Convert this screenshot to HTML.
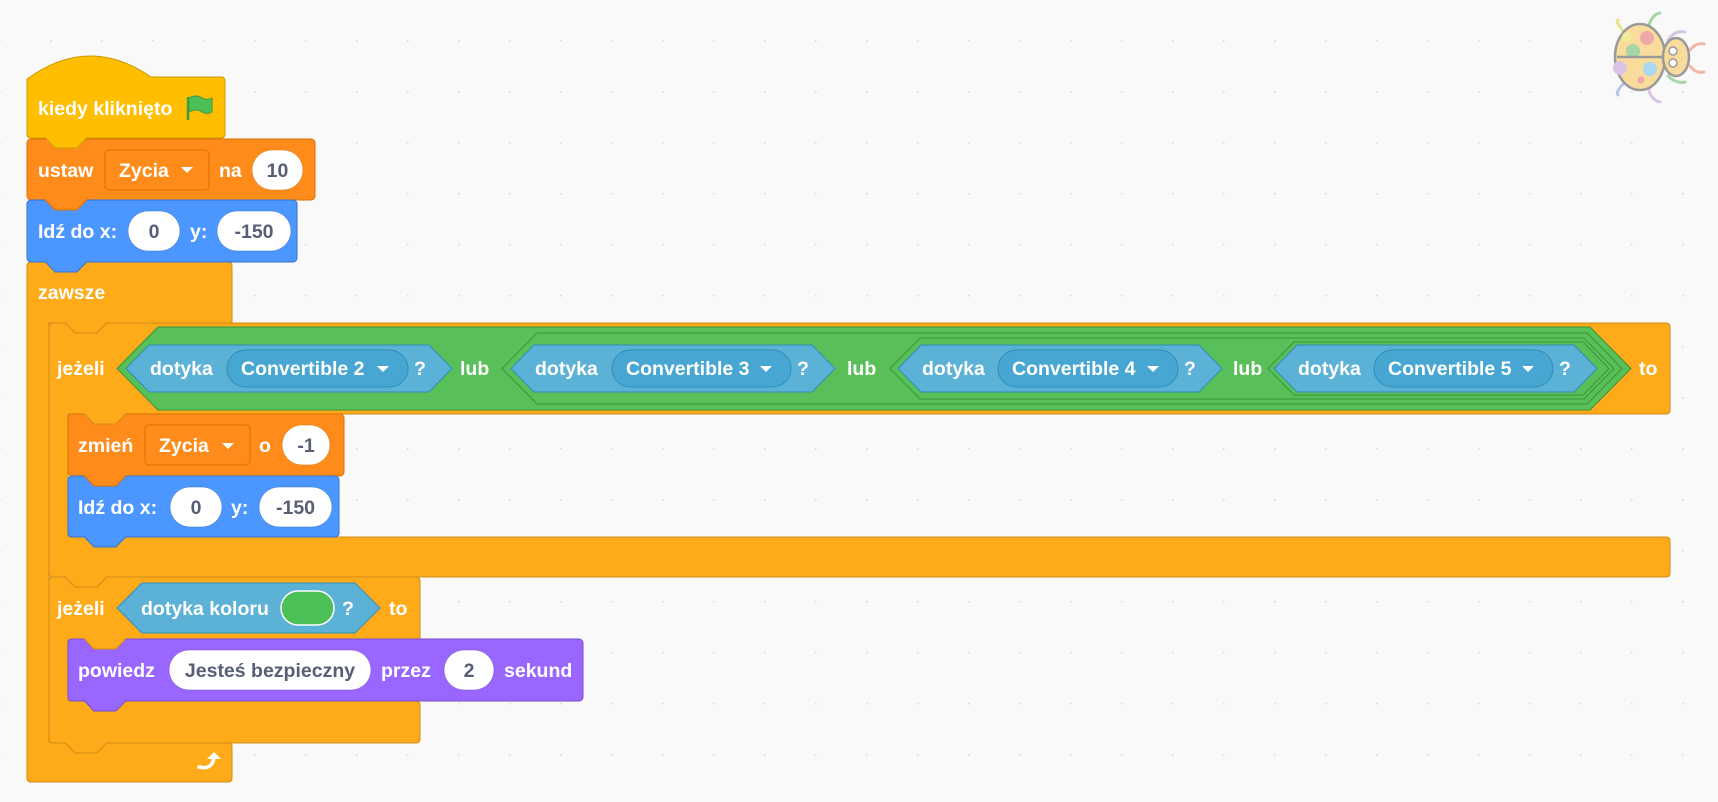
<!DOCTYPE html>
<html><head><meta charset="utf-8"><style>
html,body{margin:0;padding:0;background:#f9f9f9;width:1718px;height:802px;overflow:hidden}
svg text{font-family:"Liberation Sans",Arial,sans-serif;font-weight:bold;font-size:19.5px;fill:#fff}
svg text.d{fill:#575E75;text-anchor:middle}
</style></head><body>
<svg width="1718" height="802" viewBox="0 0 1718 802" xmlns="http://www.w3.org/2000/svg">
<defs><pattern id="g" x="-1" y="40" width="51" height="51" patternUnits="userSpaceOnUse"><circle cx="0.8" cy="0.8" r="0.9" fill="#d9d9d9"/></pattern></defs>
<rect width="1718" height="802" fill="#f9f9f9"/>
<rect width="1718" height="802" fill="url(#g)"/>

<!-- bug -->
<g stroke="#9a9a9a" stroke-width="3" stroke-linecap="round" fill="none">
<path d="M1625,33 Q1615,22 1618,20" stroke="#e9e28a"/><path d="M1648,28 Q1652,14 1660,13" stroke="#a6d6a6"/>
<path d="M1668,40 Q1675,30 1685,32" stroke="#d9c3e6"/><path d="M1690,50 Q1696,42 1704,44" stroke="#f3b6a6"/>
<path d="M1690,66 Q1696,74 1704,72" stroke="#f3b6a6"/><path d="M1668,76 Q1676,84 1685,82" stroke="#a6d6a6"/>
<path d="M1648,86 Q1650,100 1660,102" stroke="#d9c3e6"/><path d="M1625,82 Q1615,92 1618,95" stroke="#b5c8e6"/>
</g>
<ellipse cx="1640" cy="57" rx="25" ry="33" fill="#f9dc9c" stroke="#9a9a9a" stroke-width="2.5"/>
<circle cx="1647" cy="38" r="7" fill="#f0a8a8"/><circle cx="1627" cy="37" r="5" fill="#f1ea9a"/><circle cx="1633" cy="51" r="7" fill="#a6d6a6"/>
<circle cx="1620" cy="68" r="7" fill="#d9c3e6"/><circle cx="1650" cy="69" r="7" fill="#a8d8f4"/><circle cx="1641" cy="80" r="3.5" fill="#f0a8a8"/>
<line x1="1617" y1="57" x2="1664" y2="57" stroke="#9a9a9a" stroke-width="2.5"/>
<ellipse cx="1676" cy="57" rx="13" ry="19" fill="#f9dc9c" stroke="#9a9a9a" stroke-width="2.5"/>
<circle cx="1673" cy="51" r="4" fill="#fff" stroke="#9a9a9a" stroke-width="1.5"/><circle cx="1673" cy="63" r="4" fill="#fff" stroke="#9a9a9a" stroke-width="1.5"/>

<!-- forever C -->
<path d="M31,262 H228 Q232,262 232,266 V323 H49 V742 H228 Q232,742 232,746 V778 Q232,782 228,782 H31 Q27,782 27,778 V266 Q27,262 31,262 Z" fill="#FFAB19" stroke="#CF8B17" stroke-width="1"/>
<!-- if1 C -->
<path d="M53,323 H1666 Q1670,323 1670,327 V410 Q1670,414 1666,414 H68 V537 H1666 Q1670,537 1670,541 V573 Q1670,577 1666,577 H53 Q49,577 49,573 V327 Q49,323 53,323 Z" fill="#FFAB19" stroke="#CF8B17" stroke-width="1"/>
<!-- if2 C -->
<path d="M53,577 H416 Q420,577 420,581 V639 H68 V701 H416 Q420,701 420,705 V739 Q420,743 416,743 H53 Q49,743 49,739 V581 Q49,577 53,577 Z" fill="#FFAB19" stroke="#CF8B17" stroke-width="1"/>

<!-- hat -->
<path d="M27,79 Q89,34 151,77 H221 Q225,77 225,81 V134 Q225,138 221,138 H31 Q27,138 27,134 Z" fill="#FFBF00" stroke="#CC9900" stroke-width="1"/>
<rect x="27" y="139" width="288" height="61" rx="4" fill="#FF8C1A" stroke="#DB6E00"/>
<rect x="27" y="200" width="270" height="62" rx="4" fill="#4C97FF" stroke="#3373CC"/>
<rect x="68" y="414" width="276" height="62" rx="4" fill="#FF8C1A" stroke="#DB6E00"/>
<rect x="68" y="476" width="271" height="61" rx="4" fill="#4C97FF" stroke="#3373CC"/>
<rect x="68" y="639" width="515" height="62" rx="4" fill="#9966FF" stroke="#774DCB"/>

<!-- bumps -->
<g stroke-width="1">
<path d="M45,137.5 L55,148 H77 L87,137.5" fill="#FFBF00" stroke="#CC9900"/>
<path d="M45,199.5 L55,210 H77 L87,199.5" fill="#FF8C1A" stroke="#DB6E00"/>
<path d="M45,261.5 L55,272 H77 L87,261.5" fill="#4C97FF" stroke="#3373CC"/>
<path d="M65,322.5 L75,333 H97 L107,322.5" fill="#FFAB19" stroke="#CF8B17"/>
<path d="M84,413.5 L94,424 H116 L126,413.5" fill="#FFAB19" stroke="#CF8B17"/>
<path d="M84,475.5 L94,486 H116 L126,475.5" fill="#FF8C1A" stroke="#DB6E00"/>
<path d="M84,536.5 L94,547 H116 L126,536.5" fill="#4C97FF" stroke="#3373CC"/>
<path d="M65,576.5 L75,587 H97 L107,576.5" fill="#FFAB19" stroke="#CF8B17"/>
<path d="M84,638.5 L94,649 H116 L126,638.5" fill="#FFAB19" stroke="#CF8B17"/>
<path d="M84,700.5 L94,711 H116 L126,700.5" fill="#9966FF" stroke="#774DCB"/>
<path d="M65,742.5 L75,753 H97 L107,742.5" fill="#FFAB19" stroke="#CF8B17"/>
</g>

<text x="38" y="115">kiedy kliknięto</text>
<path d="M188,97 V120" stroke="#45993d" stroke-width="2.5"/>
<path d="M189,98 Q196,94 202,98 Q207,101 212,98 V112 Q207,115 202,112 Q196,108 189,112 Z" fill="#4CBF56" stroke="#45993d" stroke-width="1"/>

<text x="38" y="177">ustaw</text>
<rect x="105" y="150" width="104" height="40" rx="4" fill="#FF8C1A" stroke="#DB6E00"/>
<text x="119" y="177">Zycia</text>
<path d="M181,167 H193 L187,173 Z" fill="#fff"/>
<text x="219" y="177">na</text>
<rect x="252" y="150" width="51" height="40" rx="20" fill="#fff" stroke="#DB6E00" stroke-width="0.5"/>
<text class="d" x="277.5" y="177">10</text>

<text x="38" y="238">Idź do x:</text>
<rect x="128" y="211" width="52" height="40" rx="20" fill="#fff" stroke="#3373CC" stroke-width="0.5"/>
<text class="d" x="154" y="238">0</text>
<text x="190" y="238">y:</text>
<rect x="217" y="211" width="74" height="40" rx="20" fill="#fff" stroke="#3373CC" stroke-width="0.5"/>
<text class="d" x="254" y="238">-150</text>

<text x="38" y="299">zawsze</text>
<text x="57" y="375">jeżeli</text>

<path d="M117,368.5 L158,327 H1590 L1631,368.5 L1590,410 H158 Z" fill="#59C059" stroke="#389438"/>
<path d="M502,368.5 L537,333 H1587 L1622,368.5 L1587,404 H537 Z" fill="#59C059" stroke="#389438"/>
<path d="M890,368.5 L920,338 H1584 L1614,368.5 L1584,399 H920 Z" fill="#59C059" stroke="#389438"/>
<path d="M1268,368.5 L1294,342 H1583 L1609,368.5 L1583,395 H1294 Z" fill="#59C059" stroke="#389438"/>

<g fill="#5CB1D6" stroke="#2E8EB8">
<path d="M126,368.5 L149,345 H429 L452,368.5 L429,392 H149 Z"/>
<path d="M511,368.5 L534,345 H812 L835,368.5 L812,392 H534 Z"/>
<path d="M898,368.5 L921,345 H1199 L1222,368.5 L1199,392 H921 Z"/>
<path d="M1274,368.5 L1297,345 H1574 L1597,368.5 L1574,392 H1297 Z"/>
</g>
<g fill="#47A6D2" stroke="#2E8EB8">
<rect x="227" y="350" width="181" height="37" rx="18.5"/>
<rect x="612" y="350" width="179" height="37" rx="18.5"/>
<rect x="998" y="350" width="180" height="37" rx="18.5"/>
<rect x="1374" y="350" width="179" height="37" rx="18.5"/>
</g>
<text x="150" y="375">dotyka</text><text x="241" y="375">Convertible 2</text><path d="M377,366 H389 L383,372 Z" fill="#fff"/><text x="414" y="375">?</text>
<text x="460" y="375">lub</text>
<text x="535" y="375">dotyka</text><text x="626" y="375">Convertible 3</text><path d="M760,366 H772 L766,372 Z" fill="#fff"/><text x="797" y="375">?</text>
<text x="847" y="375">lub</text>
<text x="922" y="375">dotyka</text><text x="1012" y="375">Convertible 4</text><path d="M1147,366 H1159 L1153,372 Z" fill="#fff"/><text x="1184" y="375">?</text>
<text x="1233" y="375">lub</text>
<text x="1298" y="375">dotyka</text><text x="1388" y="375">Convertible 5</text><path d="M1522,366 H1534 L1528,372 Z" fill="#fff"/><text x="1559" y="375">?</text>
<text x="1639" y="375">to</text>

<text x="78" y="452">zmień</text>
<rect x="145" y="425" width="105" height="40" rx="4" fill="#FF8C1A" stroke="#DB6E00"/>
<text x="159" y="452">Zycia</text>
<path d="M222,443 H234 L228,449 Z" fill="#fff"/>
<text x="259" y="452">o</text>
<rect x="282" y="425" width="48" height="40" rx="20" fill="#fff" stroke="#DB6E00" stroke-width="0.5"/>
<text class="d" x="306" y="452">-1</text>

<text x="78" y="514">Idź do x:</text>
<rect x="170" y="487" width="52" height="40" rx="20" fill="#fff" stroke="#3373CC" stroke-width="0.5"/>
<text class="d" x="196" y="514">0</text>
<text x="231" y="514">y:</text>
<rect x="259" y="487" width="73" height="40" rx="20" fill="#fff" stroke="#3373CC" stroke-width="0.5"/>
<text class="d" x="295.5" y="514">-150</text>

<text x="57" y="615">jeżeli</text>
<path d="M117,608 L142,583 H355 L380,608 L355,633 H142 Z" fill="#5CB1D6" stroke="#2E8EB8"/>
<text x="141" y="615">dotyka koloru</text>
<rect x="281" y="591" width="53" height="34" rx="17" fill="#4CBF56" stroke="#fff" stroke-width="1.5"/>
<text x="342" y="615">?</text>
<text x="389" y="615">to</text>

<text x="78" y="677">powiedz</text>
<rect x="169" y="650" width="202" height="40" rx="20" fill="#fff" stroke="#774DCB" stroke-width="0.5"/>
<text class="d" x="270" y="677">Jesteś bezpieczny</text>
<text x="381" y="677">przez</text>
<rect x="444" y="650" width="50" height="40" rx="20" fill="#fff" stroke="#774DCB" stroke-width="0.5"/>
<text class="d" x="469" y="677">2</text>
<text x="504" y="677">sekund</text>

<path d="M199,767 Q212,770 214,758" stroke="#fff" stroke-width="3.5" fill="none" stroke-linecap="round"/>
<path d="M207,759 L214,752 L221,759 Z" fill="#fff"/>
</svg>
</body></html>
